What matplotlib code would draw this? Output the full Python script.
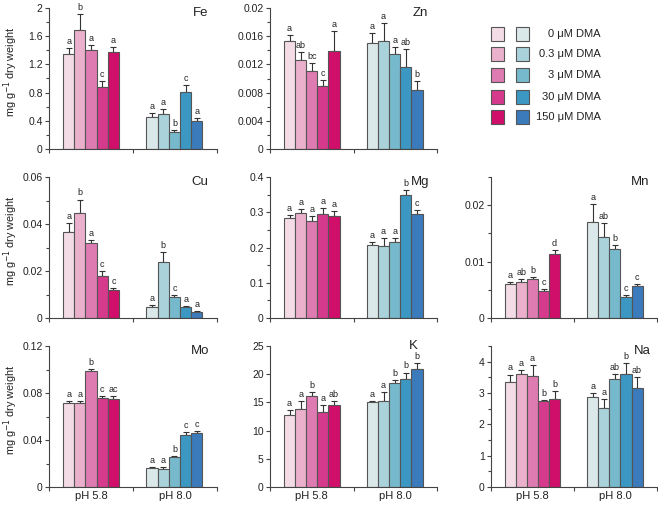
import matplotlib
matplotlib.use("Agg")
import matplotlib.pyplot as plt
from matplotlib.ticker import MultipleLocator, FuncFormatter
from matplotlib.patches import Rectangle

plt.rcParams['font.family'] = ['Liberation Sans', 'DejaVu Sans']

doses = ["0 μM DMA", "0.3 μM DMA", "3 μM DMA", "30 μM DMA", "150 μM DMA"]
groups = ["pH 5.8", "pH 8.0"]
pink = ["#f3dce6", "#eab0cc", "#de7bb0", "#d63a8c", "#cf0f6a"]
blue = ["#dbe8ea", "#a9d2db", "#77b9cc", "#3c97c3", "#3b7bbb"]

# Fe
fe_58 = [1.35, 1.69, 1.40, 0.88, 1.37]
fe_58_err = [0.08, 0.22, 0.07, 0.09, 0.08]
fe_80 = [0.45, 0.50, 0.24, 0.815, 0.40]
fe_80_err = [0.06, 0.07, 0.03, 0.09, 0.04]
fe_let = [["a", "b", "a", "c", "a"], ["a", "a", "b", "c", "a"]]
# Zn
zn_58 = [0.0153, 0.0126, 0.0110, 0.0089, 0.0139]
zn_58_err = [0.0009, 0.0011, 0.0012, 0.0009, 0.0028]
zn_80 = [0.0150, 0.0153, 0.0135, 0.0116, 0.0084]
zn_80_err = [0.0014, 0.0026, 0.0010, 0.0026, 0.0013]
zn_let = [["a", "ab", "bc", "c", "a"], ["a", "a", "a", "ab", "b"]]
# Cu
cu_58 = [0.0366, 0.0447, 0.0318, 0.0179, 0.0119]
cu_58_err = [0.0038, 0.0057, 0.0014, 0.0022, 0.0007]
cu_80 = [0.0045, 0.0237, 0.0089, 0.0047, 0.0027]
cu_80_err = [0.0012, 0.0042, 0.0010, 0.0004, 0.0003]
cu_let = [["a", "b", "a", "c", "c"], ["a", "b", "c", "a", "a"]]
# Mg
mg_58 = [0.283, 0.297, 0.276, 0.295, 0.290]
mg_58_err = [0.008, 0.012, 0.012, 0.016, 0.013]
mg_80 = [0.207, 0.205, 0.217, 0.350, 0.295]
mg_80_err = [0.009, 0.023, 0.010, 0.013, 0.011]
mg_let = [["a", "a", "a", "a", "a"], ["a", "a", "a", "b", "c"]]
# Mn
mn_58 = [0.0060, 0.0064, 0.0069, 0.0048, 0.0113]
mn_58_err = [0.0004, 0.0005, 0.0004, 0.0003, 0.0008]
mn_80 = [0.0171, 0.0144, 0.0122, 0.0038, 0.0056]
mn_80_err = [0.0031, 0.0025, 0.0008, 0.0003, 0.0004]
mn_let = [["a", "ab", "b", "c", "d"], ["a", "ab", "b", "c", "c"]]
# Mo
mo_58 = [0.0715, 0.0715, 0.0990, 0.0760, 0.0746]
mo_58_err = [0.0020, 0.0015, 0.0014, 0.0012, 0.0026]
mo_80 = [0.0159, 0.0150, 0.0255, 0.0440, 0.0462]
mo_80_err = [0.0011, 0.0020, 0.0012, 0.0025, 0.0018]
mo_let = [["a", "a", "b", "c", "ac"], ["a", "a", "b", "c", "c"]]
# K
k_58 = [12.7, 13.8, 16.2, 13.35, 14.5]
k_58_err = [0.9, 1.4, 0.7, 1.25, 0.8]
k_80 = [15.06, 15.2, 18.4, 19.2, 21.0]
k_80_err = [0.15, 1.7, 0.6, 1.1, 0.9]
k_let = [["a", "a", "b", "a", "ab"], ["a", "a", "b", "b", "b"]]
# Na
na_58 = [3.35, 3.62, 3.55, 2.74, 2.82]
na_58_err = [0.24, 0.10, 0.33, 0.03, 0.23]
na_80 = [2.88, 2.53, 3.44, 3.60, 3.16]
na_80_err = [0.11, 0.29, 0.16, 0.35, 0.36]
na_let = [["a", "a", "a", "b", "b"], ["a", "a", "ab", "b", "ab"]]

panels = [
    # name, row, col, data, ymax, major, minor, label position
    ("Fe", 0, 0, (fe_58, fe_58_err, fe_80, fe_80_err, fe_let), 2.0, 0.4, 0.2, (0.9, 0.965)),
    ("Zn", 0, 1, (zn_58, zn_58_err, zn_80, zn_80_err, zn_let), 0.02, 0.004, 0.002, (0.9, 0.965)),
    ("Cu", 1, 0, (cu_58, cu_58_err, cu_80, cu_80_err, cu_let), 0.06, 0.02, 0.01, (0.9, 0.965)),
    ("Mg", 1, 1, (mg_58, mg_58_err, mg_80, mg_80_err, mg_let), 0.4, 0.1, 0.05, (0.9, 0.965)),
    ("Mn", 1, 2, (mn_58, mn_58_err, mn_80, mn_80_err, mn_let), 0.025, 0.01, 0.005, (0.9, 0.965)),
    ("Mo", 2, 0, (mo_58, mo_58_err, mo_80, mo_80_err, mo_let), 0.12, 0.04, 0.02, (0.9, 0.965)),
    ("K", 2, 1, (k_58, k_58_err, k_80, k_80_err, k_let), 25, 5, None, (0.86, 1.0)),
    ("Na", 2, 2, (na_58, na_58_err, na_80, na_80_err, na_let), 4.5, 1, 0.5, (0.91, 0.965)),
]

W, H = 658, 505
fig = plt.figure(figsize=(W / 100, H / 100), dpi=100)

col_left = [49, 270, 491]
col_w = [168, 167, 166]
row_top = [8, 177, 346]
row_h = 141

bw = 0.1333
starts = [0.167, 1.16]
axis_col = "#444444"

for name, r, c, (m58, e58, m80, e80, lets), ymax, major, minor, lpos in panels:
    ax = fig.add_axes([col_left[c] / W, 1 - (row_top[r] + row_h) / H, col_w[c] / W, row_h / H])
    for g, (vals, errs, cols) in enumerate([(m58, e58, pink), (m80, e80, blue)]):
        xs = [starts[g] + bw * (i + 0.5) for i in range(5)]
        ax.bar(xs, vals, width=bw, color=cols, edgecolor="#555555", linewidth=0.8, zorder=2)
        ax.errorbar(xs, vals, yerr=[[0] * 5, errs], fmt="none", ecolor="#333333",
                    elinewidth=0.8, capsize=2.5, capthick=0.8, zorder=1)
        for x, v, e, l in zip(xs, vals, errs, lets[g]):
            ax.annotate(l, (x, v + e), xytext=(0, 1.5), textcoords="offset points",
                        ha="center", va="bottom", fontsize=6.5, color="#222222")
    ax.set_xlim(0, 2)
    ax.set_ylim(0, ymax)
    ax.yaxis.set_major_locator(MultipleLocator(major))
    if minor:
        ax.yaxis.set_minor_locator(MultipleLocator(minor))
    ax.yaxis.set_major_formatter(FuncFormatter(lambda v, p: "%g" % round(v, 6)))
    ax.set_xticks([0, 1, 2])
    if r == 2:
        ax.set_xticks([0.5, 1.5], groups, minor=True)
        ax.tick_params(axis="x", which="minor", length=0, labelsize=8, pad=3, colors="#222222")
    ax.set_xticklabels([])
    for s in ["top", "right"]:
        ax.spines[s].set_visible(False)
    for s in ["left", "bottom"]:
        ax.spines[s].set_color(axis_col)
        ax.spines[s].set_linewidth(0.8)
    ax.tick_params(axis="both", which="major", direction="out", length=3, width=0.8,
                   color=axis_col, labelcolor="#222222", pad=1.5)
    ax.tick_params(axis="y", which="major", labelsize=7.5)
    ax.tick_params(axis="y", which="minor", direction="out", length=2, width=0.8, color=axis_col)
    ax.text(lpos[0], lpos[1], name, transform=ax.transAxes, ha="center", va="center",
            fontsize=9.5, color="#222222")
    if c == 0:
        ax.set_ylabel("mg g$^{-1}$ dry weight", fontsize=7.8, color="#222222")
        ax.yaxis.set_label_coords((20.5 - col_left[0]) / col_w[0], 0.55)

# Legend
sq = 13
ys = [34, 54, 75, 97, 117]
for i, lab in enumerate(doses):
    for x0, col in [(491, pink[i]), (516, blue[i])]:
        fig.patches.append(Rectangle((x0 / W, 1 - (ys[i] + sq / 2) / H), sq / W, sq / H,
                                     transform=fig.transFigure, facecolor=col,
                                     edgecolor="#555555", linewidth=0.8))
    fig.text(601 / W, 1 - ys[i] / H, lab, ha="right", va="center", fontsize=8, color="#222222")

fig.savefig("out.png", dpi=100)
